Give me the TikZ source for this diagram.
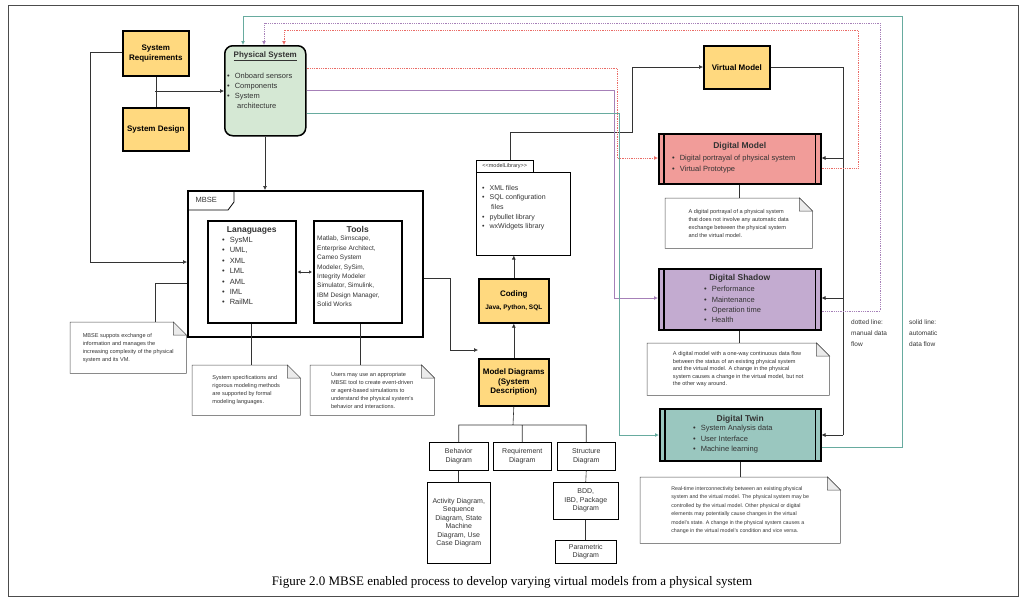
\documentclass[tikz,border=0pt]{standalone}
\usepackage{fontspec}
\setmainfont{Liberation Sans}
\newfontfamily\capfont{Liberation Serif}
\usetikzlibrary{arrows.meta,calc}
\definecolor{yel}{HTML}{FFD97F}
\definecolor{grn}{HTML}{D5E8D4}
\definecolor{rd}{HTML}{F19C99}
\definecolor{pu}{HTML}{C3ABD0}
\definecolor{tw}{HTML}{9AC7BF}
\definecolor{rline}{HTML}{EA6B66}
\definecolor{pline}{HTML}{A680B8}
\definecolor{gline}{HTML}{67AB9F}
\tikzset{
 x=1pt,y=-1pt,
 box/.style={draw,anchor=north west,inner sep=2pt,align=center},
 ybox/.style={box,fill=yel,line width=1.6pt,font=\fontsize{8}{9.5}\selectfont\bfseries},
 wbox/.style={box,line width=0.5pt,font=\fontsize{7}{8.5}\selectfont,text=black!80},
 note/.style={anchor=north west,inner sep=3pt,align=left,font=\fontsize{5.6}{8}\selectfont,text=black!80},
 proc/.style={box,line width=1.5pt,font=\fontsize{8}{9.5}\selectfont},
 arr/.style={-{Latex[length=4pt,width=4pt]}},
 ln/.style={line width=0.6pt,draw=black!80},
}
\newcommand\notebox[1]{\draw[line width=0.5pt,draw=black!70] (#1.south west) -- (#1.north west) -- ([xshift=-13pt]#1.north east) -- ([yshift=-13pt]#1.north east) -- (#1.south east) -- cycle;
\draw[line width=0.5pt,draw=black!70,fill=black!8] ([xshift=-13pt]#1.north east) -- ([xshift=-13pt,yshift=-13pt]#1.north east) -- ([yshift=-13pt]#1.north east) -- cycle;}
\newcommand\bars[1]{\draw[line width=1.5pt] ([xshift=6pt]#1.north west) -- ([xshift=6pt]#1.south west) ([xshift=-6pt]#1.north east) -- ([xshift=-6pt]#1.south east);}
\newcommand\bl{\textbullet\hspace{5pt}}
\begin{document}
\begin{tikzpicture}
\useasboundingbox (0,0) rectangle (1024,606);
\draw[line width=1pt,black!70] (8,5) rectangle (1018,596);
\node[font=\capfont\fontsize{13}{15}\selectfont] (cap) at (512,582) {Figure 2.0 MBSE enabled process to develop varying virtual models from a physical system};

\node[ybox,minimum width=66pt,minimum height=45pt] (req) at (122,30) {System\\Requirements};
\node[ybox,minimum width=66pt,minimum height=43pt] (des) at (122,107) {System Design};
\node[draw,anchor=north west,rounded corners=8pt,fill=grn,line width=1.5pt,minimum width=81pt,minimum height=90pt] (ps) at (224,45) {};
\node[font=\fontsize{8}{9.5}\selectfont\bfseries,anchor=north,text=black!80] (pst) at ([yshift=-3pt]ps.north) {\underline{Physical System}};
\node[font=\fontsize{7.5}{10}\selectfont,anchor=north west,align=left,inner sep=0pt,text=black!80] (psb) at (227,73) {\bl Onboard sensors\\\bl Components\\\bl System\\\hspace{10pt}architecture};

\node[draw,anchor=north west,line width=1.5pt,minimum width=235pt,minimum height=146pt] (mb) at (187,190) {};
\draw[line width=0.8pt] (187,210) -- (228,210) -- (234,202) -- (234,190);
\node[font=\fontsize{7.5}{9}\selectfont,anchor=west,text=black!80] (mbt) at (192,200) {MBSE};
\node[proc,minimum width=88pt,minimum height=102pt] (lang) at (207,220) {};
\node[font=\fontsize{8.5}{10}\selectfont\bfseries,anchor=north,text=black!80] at ([yshift=-3pt]lang.north) (langt) {Lanaguages};
\node[font=\fontsize{7.5}{10.4}\selectfont,anchor=north west,align=left,inner sep=0pt,text=black!80] (langb) at (222,237) {\bl SysML\\\bl UML,\\\bl XML\\\bl LML\\\bl AML\\\bl IML\\\bl RailML};
\node[proc,minimum width=88pt,minimum height=102pt] (tools) at (313,220) {};
\node[font=\fontsize{8.5}{10}\selectfont\bfseries,anchor=north,text=black!80] at ([yshift=-3pt]tools.north) (toolst) {Tools};
\node[font=\fontsize{6.5}{9.4}\selectfont,anchor=north west,align=left,inner sep=0pt,text=black!80] (toolsb) at (317,236) {Matlab, Simscape,\\Enterprise Architect,\\Cameo System\\Modeler, SySim,\\Integrity Modeler\\Simulator, Simulink,\\IBM Design Manager,\\Solid Works};
\draw[{Latex[length=3pt,width=3.5pt]}-{Latex[length=3pt,width=3.5pt]},ln] ([xshift=1pt]lang.east |- 0,272) -- ([xshift=-1pt]tools.west |- 0,272);

\node[note,minimum width=116pt,minimum height=51pt] (n1) at (70,322) {MBSE suppots exchange of\\information and manages the\\increasing complexity of the physical\\system and its VM.};
\notebox{n1}
\node[note,minimum width=108pt,minimum height=50pt] (n2) at (192,365) {System specifications and\\rigorous modeling methods\\are supported by formal\\modeling languages.};
\notebox{n2}
\node[note,minimum width=124pt,minimum height=50pt] (n3) at (310,365) {Users may use an appropriate\\MBSE tool to create event-driven\\or agent-based simulations to\\understand the physical system's\\behavior and interactions.};
\notebox{n3}
\draw[ln] (n1.north -| 155,0) -- (155,283) -- (mb.west |- 0,283);
\draw[ln] (lang.south) -- (lang.south |- n2.north);
\draw[ln] (tools.south -| 360,0) -- (360,365);

\draw[ln] (req.south) -- (des.north);
\draw[ln,arr] (155,91) -- (ps.west |- 0,91);
\draw[ln,arr] (req.west |- 0,52) -- (90,52) -- (90,262) -- (mb.west |- 0,262);
\draw[ln,arr] (ps.south -| 265,0) -- (265,190);

\node[ybox,minimum width=70pt,minimum height=47pt] (md) at (478,358) {Model Diagrams\\(System\\Description)};
\node[ybox,minimum width=70pt,minimum height=44pt] (cod) at (478,278) {Coding\\[3pt]{\fontsize{6.5}{8}\selectfont Java, Python, SQL}};
\draw[ln,arr] (mb.east |- 0,278) -- (450,278) -- (450,350) -- (md.west |- 0,350);
\draw[ln,arr] (md.north) -- (cod.south);
\node[wbox,minimum width=57pt,minimum height=12pt,font=\fontsize{5.5}{6}\selectfont,inner sep=1pt] (tab) at (476,160) {<{}<modelLibrary>{}>};
\node[wbox,minimum width=94pt,minimum height=83pt] (lib) at (476,172) {};
\node[font=\fontsize{7}{9.6}\selectfont,anchor=north west,align=left,inner sep=0pt,text=black!80] (libb) at (482,185) {\bl XML files\\\bl SQL configuration\\\hspace{9pt}files\\\bl pybullet library\\\bl wxWidgets library};
\draw[ln,arr] (cod.north) -- (cod.north |- lib.south);

\node[ybox,minimum width=66pt,minimum height=43pt] (vm) at (703,45) {Virtual Model};
\draw[ln,arr] (tab.north -| 510,0) -- (510,132) -- (632,132) -- (632,67) -- (vm.west |- 0,67);

\node[proc,fill=rd,minimum width=162pt,minimum height=50pt] (dm) at (658,133) {};
\bars{dm}
\node[font=\fontsize{8.5}{10}\selectfont\bfseries,anchor=north,text=black!80] (dmt) at ([yshift=-6pt]dm.north) {Digital Model};
\node[font=\fontsize{7.5}{10.5}\selectfont,anchor=north west,align=left,inner sep=0pt,text=black!80] (dmb) at (672,155) {\bl Digital portrayal of physical system\\\bl Virtual Prototype};
\node[proc,fill=pu,minimum width=162pt,minimum height=61pt] (ds) at (658,268) {};
\bars{ds}
\node[font=\fontsize{8.5}{10}\selectfont\bfseries,anchor=north,text=black!80] (dst) at ([yshift=-3pt]ds.north) {Digital Shadow};
\node[font=\fontsize{7.5}{10.4}\selectfont,anchor=north west,align=left,inner sep=0pt,text=black!80] (dsb) at (704,286) {\bl Performance\\\bl Maintenance\\\bl Operation time\\\bl Health};
\node[proc,fill=tw,minimum width=161pt,minimum height=52pt] (dt) at (659,408) {};
\bars{dt}
\node[font=\fontsize{8.5}{10}\selectfont\bfseries,anchor=north,text=black!80] (dtt) at ([yshift=-4pt]dt.north) {Digital Twin};
\node[font=\fontsize{7.5}{10.4}\selectfont,anchor=north west,align=left,inner sep=0pt,text=black!80] (dtb) at (693,425) {\bl System Analysis data\\\bl User Interface\\\bl Machine learning};

\node[note,minimum width=147pt,minimum height=50pt] (n4) at (665,198) {A digital portrayal of a physical system\\that does not involve any automatic data\\exchange between the physical system\\and the virtual model.};
\notebox{n4}
\node[note,minimum width=182pt,minimum height=52pt,font=\fontsize{5.6}{7.6}\selectfont] (n5) at (647,343) {A digital model with a one-way continuous data flow\\between the status of an existing physical system\\and the virtual model. A change in the physical\\system causes a change in the virtual model, but not\\the other way around.};
\notebox{n5}
\node[note,minimum width=200pt,minimum height=66pt,font=\fontsize{5.3}{8.4}\selectfont] (n6) at (640,477) {Real-time interconnectivity between an existing physical\\system and the virtual model. The physical system may be\\controlled by the virtual model. Other physical or digital\\elements may potentially cause changes in the virtual\\model's state. A change in the physical system causes a\\change in the virtual model's condition and vice versa.};
\notebox{n6}
\draw[ln] (dm.south) -- (dm.south |- n4.north);
\draw[ln] (ds.south) -- (ds.south |- n5.north);
\draw[ln] (dt.south) -- (dt.south |- n6.north);

\draw[ln] (vm.east |- 0,67) -- (843,67) -- (843,435);
\draw[ln,arr] (843,158) -- (dm.east |- 0,158);
\draw[ln,arr] (843,298) -- (ds.east |- 0,298);
\draw[ln,arr] (843,435) -- (dt.east |- 0,435);

\draw[rline,densely dotted,line width=0.8pt,arr] (ps.east |- 0,68) -- (617,68) -- (617,158) -- (dm.west |- 0,158);
\draw[pline,line width=0.9pt,arr] (ps.east |- 0,90) -- (614,90) -- (614,298) -- (ds.west |- 0,298);
\draw[gline,line width=0.9pt,arr] (ps.east |- 0,113) -- (619,113) -- (619,435) -- (dt.west |- 0,435);
\draw[rline,densely dotted,line width=0.8pt,arr] (dm.east |- 0,168) -- (858,168) -- (858,30) -- (284,30) -- (284,45);
\draw[pline,densely dotted,line width=0.8pt,arr] (ds.east |- 0,311) -- (880,311) -- (880,23) -- (264,23) -- (264,45);
\draw[gline,line width=1pt,arr] (dt.east |- 0,447) -- (902,447) -- (902,16) -- (243,16) -- (243,45);

\node[font=\fontsize{6.5}{11}\selectfont,anchor=north west,align=left,text=black!80,inner sep=0pt] (dl) at (851,320) {dotted line:\\manual data\\flow};
\node[font=\fontsize{6.5}{11}\selectfont,anchor=north west,align=left,text=black!80,inner sep=0pt] (sl) at (909,320) {solid line:\\automatic\\data flow};

\node[wbox,minimum width=59pt,minimum height=28pt] (beh) at (429,442) {Behavior\\Diagram};
\node[wbox,minimum width=58pt,minimum height=28pt] (rq) at (493,442) {Requirement\\Diagram};
\node[wbox,minimum width=58pt,minimum height=28pt] (st) at (557,442) {Structure\\Diagram};
\node[wbox,minimum width=63pt,minimum height=81pt] (act) at (427,482) {Activity Diagram,\\Sequence\\Diagram, State\\Machine\\Diagram, Use\\Case Diagram};
\node[wbox,minimum width=65pt,minimum height=37pt] (bdd) at (553,482) {BDD,\\IBD, Package\\Diagram};
\node[wbox,minimum width=61pt,minimum height=23pt] (par) at (555,540) {Parametric\\Diagram};
\draw[ln] (md.south) -- (513,425) (beh.north) |- (513,425) -| (st.north) (rq.north) -- (rq.north |- 0,425);
\draw[ln] (beh.south) -- (act.north);
\draw[ln] (st.south) -- (bdd.north);
\draw[ln] (bdd.south) -- (par.north);
\end{tikzpicture}
\end{document}
